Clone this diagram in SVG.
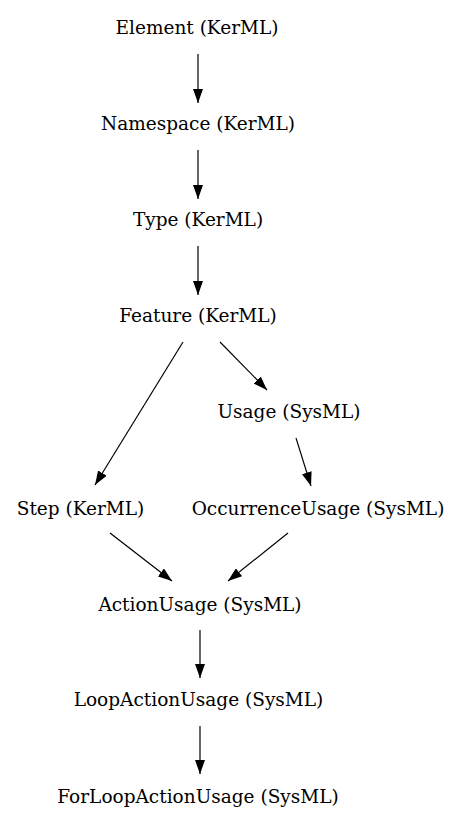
<svg xmlns="http://www.w3.org/2000/svg" width="461" height="827" viewBox="0 0 461 827">
<defs>
<style>
text{font-family:"DejaVu Serif",serif;font-size:18.5px;text-anchor:middle;fill:#000}
.e line{stroke:#000;stroke-width:1.2}
</style>
<marker id="ah" viewBox="0 0 14 10" refX="14" refY="5" markerWidth="14" markerHeight="10" markerUnits="userSpaceOnUse" orient="auto"><path d="M0,0 L14,5 L0,10 z" fill="#000"/></marker>
</defs>
<rect width="461" height="827" fill="#fff"/>
<g class="e">
<line x1="198" y1="54" x2="198" y2="103" marker-end="url(#ah)"/>
<line x1="198" y1="150" x2="198" y2="199" marker-end="url(#ah)"/>
<line x1="198" y1="246" x2="198" y2="295" marker-end="url(#ah)"/>
<line x1="183" y1="342" x2="95" y2="485" marker-end="url(#ah)"/>
<line x1="220" y1="342" x2="267" y2="390" marker-end="url(#ah)"/>
<line x1="296" y1="438" x2="311" y2="486" marker-end="url(#ah)"/>
<line x1="110" y1="533" x2="172" y2="581" marker-end="url(#ah)"/>
<line x1="288" y1="533" x2="228" y2="581" marker-end="url(#ah)"/>
<line x1="200" y1="630" x2="200" y2="678" marker-end="url(#ah)"/>
<line x1="200" y1="726" x2="200" y2="774" marker-end="url(#ah)"/>
</g>
<g id="n1"><text x="197" y="34">Element (KerML)</text></g>
<g id="n2"><text x="198" y="130">Namespace (KerML)</text></g>
<g id="n3"><text x="198" y="226">Type (KerML)</text></g>
<g id="n4"><text x="198" y="322">Feature (KerML)</text></g>
<g id="n5"><text x="289" y="418">Usage (SysML)</text></g>
<g id="n6"><text x="80.5" y="515">Step (KerML)</text></g>
<g id="n7"><text x="318" y="515">OccurrenceUsage (SysML)</text></g>
<g id="n8"><text x="200" y="611">ActionUsage (SysML)</text></g>
<g id="n9"><text x="198.5" y="706">LoopActionUsage (SysML)</text></g>
<g id="n10"><text x="198" y="803">ForLoopActionUsage (SysML)</text></g>
</svg>
